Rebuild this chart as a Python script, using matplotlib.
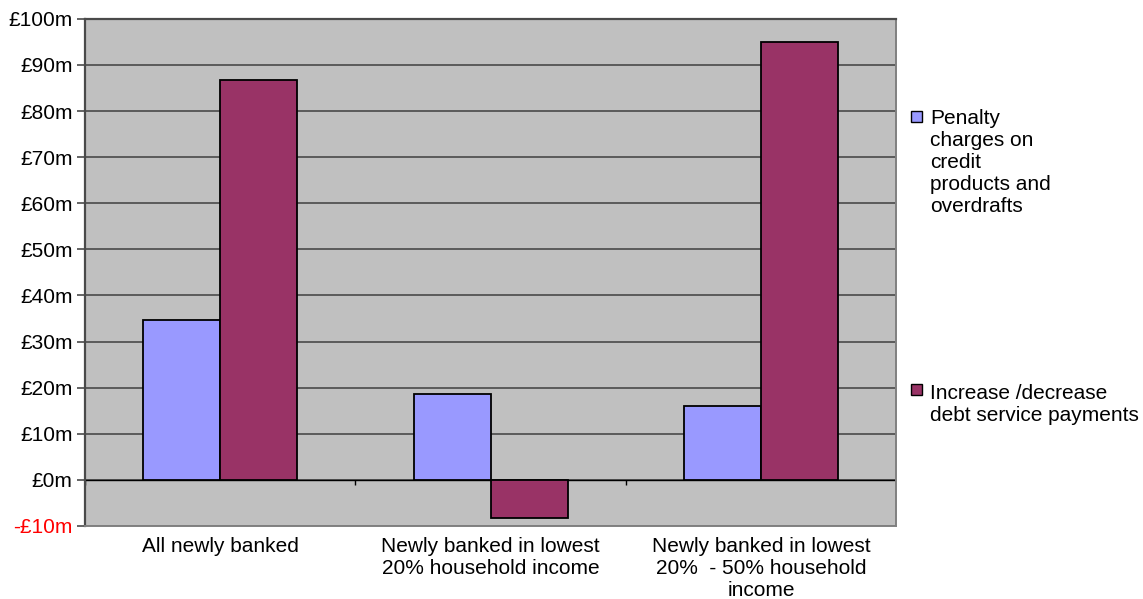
import matplotlib
matplotlib.use("Agg")
import matplotlib.pyplot as plt
from matplotlib.patches import Rectangle
import numpy as np

plt.rcParams["font.family"] = ["Liberation Sans", "DejaVu Sans"]

# ── Data (£m) ────────────────────────────────────────────────────────────────
categories = [
    "All newly banked",
    "Newly banked in lowest\n20% household income",
    "Newly banked in lowest\n20%  - 50% household\nincome",
]
penalty_charges = [34.7, 18.7, 16.1]
debt_service = [86.8, -8.2, 95.0]
series_labels = [
    "Penalty\ncharges on\ncredit\nproducts and\noverdrafts",
    "Increase /decrease\ndebt service payments",
]
yticks = list(range(-10, 101, 10))

BLUE = "#9999FF"
MAROON = "#993366"
PLOT_BG = "#C0C0C0"
GRID = "#4a4a4a"
FS = 15

fig = plt.figure(figsize=(11.43, 5.99), dpi=100)
ax = fig.add_axes([0.0744, 0.1219, 0.7096, 0.8466])
ax.set_facecolor(PLOT_BG)

x = np.arange(len(categories))
w = 0.285
ax.bar(x - w / 2, penalty_charges, w, color=BLUE, edgecolor="black", linewidth=1.3, zorder=3)
ax.bar(x + w / 2, debt_service, w, color=MAROON, edgecolor="black", linewidth=1.3, zorder=3)

ax.set_xlim(-0.5, len(categories) - 0.5)
ax.set_ylim(-10, 100)
ax.set_yticks(yticks)
ax.set_yticklabels([f"-£{-v}m" if v < 0 else f"£{v}m" for v in yticks], fontsize=FS)
for lbl, v in zip(ax.get_yticklabels(), yticks):
    if v < 0:
        lbl.set_color("red")
ax.tick_params(axis="y", length=6, width=1.2, color=GRID, pad=3)
ax.grid(axis="y", color=GRID, linewidth=1.2, zorder=1)

# zero line with small boundary ticks between categories
ax.axhline(0, color="black", linewidth=1.0, zorder=2)
bounds = np.arange(len(categories) + 1) - 0.5
ax.vlines(bounds, -1.2, 0, color="black", linewidth=1.0, zorder=2)

ax.set_xticks(x)
ax.set_xticklabels(categories, fontsize=FS, linespacing=1.2)
ax.tick_params(axis="x", length=0, pad=8)

for side in ["left", "top"]:
    ax.spines[side].set_color(GRID)
    ax.spines[side].set_linewidth(1.6)
for side in ["right", "bottom"]:
    ax.spines[side].set_color("#808080")
    ax.spines[side].set_linewidth(1.4)

# ── Legend ───────────────────────────────────────────────────────────────────
leg_x = 911 / 1143
for color, text, ytop, ttop in zip([BLUE, MAROON], series_labels,
                                   [1 - 111 / 599, 1 - 384 / 599],
                                   [1 - 109 / 599, 1 - 384 / 599]):
    fig.patches.append(Rectangle((leg_x, ytop - 11 / 599), 11 / 1143, 11 / 599,
                                 transform=fig.transFigure, facecolor=color,
                                 edgecolor="black", linewidth=1.0))
    fig.text(930 / 1143, ttop, text, fontsize=FS, va="top",
             ha="left", linespacing=1.2)

fig.savefig("out.png", dpi=100)
